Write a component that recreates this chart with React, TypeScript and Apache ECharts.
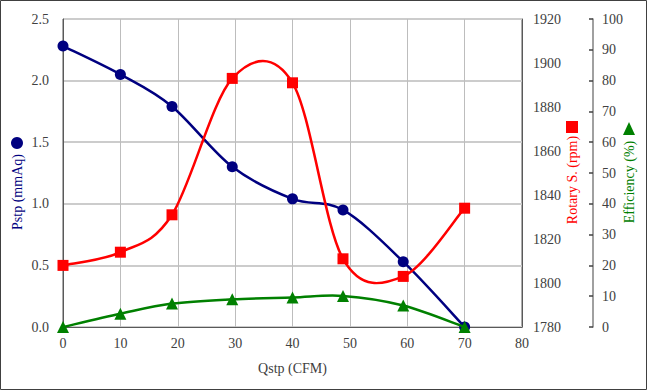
import React, { useEffect, useRef } from "react";
import * as echarts from "echarts";

const qstp = [0, 10, 19, 29.5, 40, 48.8, 59.3, 70];
const pstp = [2.28, 2.05, 1.79, 1.3, 1.04, 0.95, 0.53, 0.0];
const rotary = [1808, 1814, 1831, 1893, 1891, 1811, 1803, 1834];
const efficiency = [0, 4.3, 7.6, 9.0, 9.6, 10.1, 7.0, 0];
const xTicks = [0, 80, 10];
const pTicks = [0, 2.5, 0.5];
const rTicks = [1780, 1920, 20];
const eTicks = [0, 100, 10];

const FONT = "Liberation Serif";
const NAVY = "#000080";
const RED = "#ff0000";
const GREEN = "#008000";
const AXIS = "#595959";
const LABEL = "#404040";

const pair = (ys: number[]) => qstp.map((x, i) => [x, ys[i]]);

// Excel-like (Catmull-Rom) smoothed segment, positioned through the axes
function curveSeries(ys: number[], yAxisIndex: number, color: string, z: number) {
  const data = pair(ys);
  return {
    type: "custom",
    yAxisIndex,
    z,
    silent: true,
    data,
    encode: { x: 0, y: 1 },
    renderItem: (params: any, api: any) => {
      const i = params.dataIndex;
      if (i >= data.length - 1) return null;
      const P = data.map((d) => api.coord(d));
      const p0 = P[Math.max(i - 1, 0)];
      const p1 = P[i];
      const p2 = P[i + 1];
      const p3 = P[Math.min(i + 2, P.length - 1)];
      const t = 1 / 6;
      return {
        type: "bezierCurve",
        shape: {
          x1: p1[0],
          y1: p1[1],
          cpx1: p1[0] + (p2[0] - p0[0]) * t,
          cpy1: p1[1] + (p2[1] - p0[1]) * t,
          cpx2: p2[0] - (p3[0] - p1[0]) * t,
          cpy2: p2[1] - (p3[1] - p1[1]) * t,
          x2: p2[0],
          y2: p2[1],
        },
        style: { stroke: color, lineWidth: 2.5, fill: "none" },
      };
    },
  };
}

function markerSeries(ys: number[], yAxisIndex: number, color: string, symbol: string, size: number, z: number) {
  return {
    type: "scatter",
    yAxisIndex,
    z,
    data: pair(ys),
    symbol,
    symbolSize: size,
    itemStyle: { color, opacity: 1 },
  };
}

export default function App() {
  const ref = useRef<HTMLDivElement>(null);
  useEffect(() => {
    const chart = echarts.init(ref.current!, null, { renderer: "svg" });
    const labelStyle = { color: LABEL, fontFamily: FONT, fontSize: 14 };
    chart.setOption({
      animation: false,
      backgroundColor: "#ffffff",
      textStyle: { fontFamily: FONT },
      grid: {
        left: 63,
        right: 125,
        top: 19,
        bottom: 63,
        show: true,
        borderColor: AXIS,
        borderWidth: 1,
      },
      xAxis: {
        type: "value",
        min: xTicks[0],
        max: xTicks[1],
        interval: xTicks[2],
        name: "Qstp (CFM)",
        nameLocation: "middle",
        nameGap: 34,
        nameTextStyle: { color: LABEL, fontFamily: FONT, fontSize: 14 },
        axisLine: { lineStyle: { color: AXIS } },
        axisTick: { show: false },
        axisLabel: { ...labelStyle, margin: 9 },
        splitLine: { lineStyle: { color: "#bdbdbd", width: 1 } },
      },
      yAxis: [
        {
          type: "value",
          min: pTicks[0],
          max: pTicks[1],
          interval: pTicks[2],
          position: "left",
          axisLine: { show: true, lineStyle: { color: AXIS } },
          axisTick: { show: false },
          axisLabel: { ...labelStyle, margin: 14, formatter: (v: number) => v.toFixed(1) },
          splitLine: { lineStyle: { color: "#cccccc", width: 2 } },
        },
        {
          type: "value",
          min: rTicks[0],
          max: rTicks[1],
          interval: rTicks[2],
          position: "right",
          axisLine: { show: true, lineStyle: { color: AXIS } },
          axisTick: { show: false },
          axisLabel: { ...labelStyle, margin: 11, formatter: (v: number) => String(v) },
          splitLine: { show: false },
        },
        {
          type: "value",
          min: eTicks[0],
          max: eTicks[1],
          interval: eTicks[2],
          position: "right",
          offset: 71,
          axisLine: { show: true, lineStyle: { color: "#808080", width: 1.5 } },
          axisTick: { show: true, inside: true, length: 4, lineStyle: { color: "#404040", width: 1.5 } },
          axisLabel: { ...labelStyle, margin: 9, formatter: (v: number) => String(v) },
          splitLine: { show: false },
        },
      ],
      series: [
        curveSeries(pstp, 0, NAVY, 2),
        markerSeries(pstp, 0, NAVY, "circle", 11, 3),
        curveSeries(rotary, 1, RED, 4),
        markerSeries(rotary, 1, RED, "rect", 11, 5),
        curveSeries(efficiency, 2, GREEN, 6),
        markerSeries(efficiency, 2, GREEN, "triangle", 12, 7),
      ],
      graphic: [
        {
          type: "rect",
          shape: { x: 0.5, y: 0.5, width: 646, height: 389 },
          style: { fill: "none", stroke: "#404040", lineWidth: 1 },
          silent: true,
        },
        {
          type: "text",
          x: 17,
          y: 192,
          rotation: Math.PI / 2,
          style: { text: "Pstp (mmAq)", fill: NAVY, font: `14px ${FONT}`, align: "center", verticalAlign: "middle" },
        },
        { type: "circle", shape: { cx: 17, cy: 143, r: 6 }, style: { fill: NAVY } },
        {
          type: "text",
          x: 572,
          y: 180,
          rotation: Math.PI / 2,
          style: { text: "Rotary S. (rpm)", fill: RED, font: `14px ${FONT}`, align: "center", verticalAlign: "middle" },
        },
        { type: "rect", shape: { x: 566, y: 121, width: 12, height: 12 }, style: { fill: RED } },
        {
          type: "text",
          x: 629,
          y: 182,
          rotation: Math.PI / 2,
          style: { text: "Efficiency (%)", fill: GREEN, font: `14px ${FONT}`, align: "center", verticalAlign: "middle" },
        },
        { type: "polygon", shape: { points: [[629, 122], [623, 135], [635, 135]] }, style: { fill: GREEN } },
      ],
    });
    return () => chart.dispose();
  }, []);
  return <div ref={ref} style={{ position: "fixed", left: 0, top: 0, width: 647, height: 390 }} />;
}
